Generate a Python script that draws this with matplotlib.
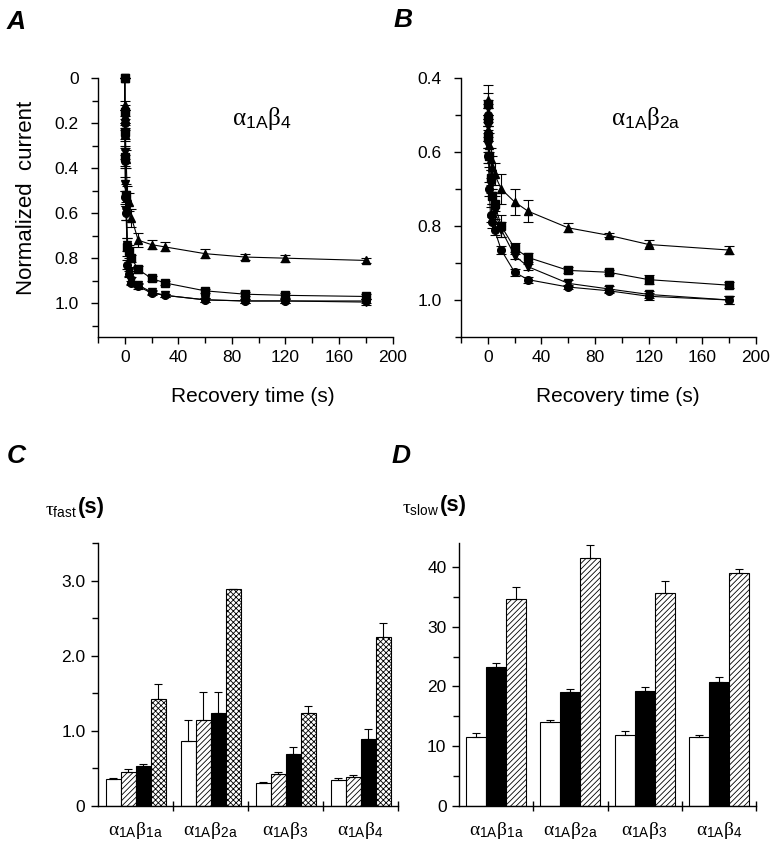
import matplotlib.pyplot as plt
from matplotlib.ticker import MultipleLocator, FixedLocator

plt.rcParams['font.family'] = ['Liberation Sans', 'DejaVu Sans']
plt.rcParams['mathtext.fontset'] = 'custom'
plt.rcParams['mathtext.rm'] = 'Liberation Serif'
plt.rcParams['mathtext.it'] = 'Liberation Serif:italic'
plt.rcParams['mathtext.bf'] = 'Liberation Serif:bold'
plt.rcParams['mathtext.sf'] = 'Liberation Sans'
plt.rcParams['hatch.linewidth'] = 0.6

# ---- panel A : alpha1A beta4 recovery ----
t_a = [0, 0.1, 0.25, 0.5, 1, 2, 3, 5, 10, 20, 30, 60, 90, 120, 180]
a_up = [0, 0.12, 0.17, 0.25, 0.36, 0.53, 0.55, 0.62, 0.72, 0.74, 0.75, 0.78, 0.795, 0.80, 0.81]
a_up_err = [0, 0.02, 0.03, 0.03, 0.04, 0.05, 0.04, 0.04, 0.03, 0.02, 0.02, 0.02, 0.015, 0.015, 0.012]
a_sq = [0, 0.15, 0.24, 0.35, 0.52, 0.75, 0.77, 0.80, 0.85, 0.89, 0.91, 0.945, 0.96, 0.965, 0.97]
a_sq_err = [0, 0.03, 0.03, 0.04, 0.05, 0.04, 0.03, 0.015, 0.015, 0.01, 0.01, 0.01, 0.01, 0.012, 0.012]
a_dn = [0, 0.17, 0.33, 0.47, 0.59, 0.74, 0.86, 0.90, 0.92, 0.95, 0.965, 0.985, 0.99, 0.99, 0.995]
a_dn_err = [0, 0.03, 0.03, 0.03, 0.04, 0.03, 0.02, 0.015, 0.01, 0.008, 0.008, 0.008, 0.008, 0.01, 0.012]
a_ci = [0, 0.20, 0.37, 0.53, 0.60, 0.83, 0.87, 0.91, 0.925, 0.955, 0.965, 0.985, 0.99, 0.99, 0.99]
a_ci_err = [0, 0.03, 0.03, 0.03, 0.03, 0.02, 0.015, 0.01, 0.01, 0.008, 0.008, 0.008, 0.008, 0.008, 0.008]

# ---- panel B : alpha1A beta2a recovery ----
t_b = [0.1, 0.25, 0.5, 1, 2, 3, 5, 10, 20, 30, 60, 90, 120, 180]
b_up = [0.46, 0.50, 0.54, 0.58, 0.62, 0.64, 0.66, 0.70, 0.735, 0.76, 0.805, 0.825, 0.85, 0.865]
b_up_err = [0.04, 0.03, 0.03, 0.03, 0.03, 0.03, 0.03, 0.04, 0.035, 0.03, 0.012, 0.006, 0.012, 0.01]
b_sq = [0.47, 0.51, 0.56, 0.61, 0.67, 0.72, 0.74, 0.80, 0.86, 0.885, 0.92, 0.925, 0.945, 0.96]
b_sq_err = [0.03, 0.03, 0.03, 0.02, 0.02, 0.02, 0.02, 0.03, 0.015, 0.012, 0.008, 0.006, 0.012, 0.008]
b_dn = [0.48, 0.53, 0.58, 0.62, 0.69, 0.72, 0.76, 0.81, 0.88, 0.91, 0.955, 0.97, 0.985, 1.0]
b_dn_err = [0.02, 0.02, 0.02, 0.02, 0.02, 0.02, 0.02, 0.02, 0.01, 0.008, 0.008, 0.008, 0.01, 0.01]
b_ci = [0.50, 0.55, 0.61, 0.70, 0.77, 0.79, 0.81, 0.865, 0.925, 0.945, 0.965, 0.975, 0.99, 1.0]
b_ci_err = [0.02, 0.02, 0.02, 0.02, 0.02, 0.015, 0.015, 0.01, 0.01, 0.008, 0.006, 0.006, 0.01, 0.01]

# ---- panels C, D : time constants ----
groups = [r'$\mathrm{\alpha}_{\mathsf{1A}}\mathrm{\beta}_{\mathsf{1a}}$',
          r'$\mathrm{\alpha}_{\mathsf{1A}}\mathrm{\beta}_{\mathsf{2a}}$',
          r'$\mathrm{\alpha}_{\mathsf{1A}}\mathrm{\beta}_{\mathsf{3}}$',
          r'$\mathrm{\alpha}_{\mathsf{1A}}\mathrm{\beta}_{\mathsf{4}}$']
c_white = [0.36, 0.87, 0.31, 0.34]
c_white_err = [0.01, 0.28, 0.01, 0.03]
c_hatch = [0.45, 1.15, 0.42, 0.39]
c_hatch_err = [0.04, 0.37, 0.03, 0.02]
c_black = [0.53, 1.24, 0.69, 0.89]
c_black_err = [0.03, 0.28, 0.10, 0.13]
c_cross = [1.43, 2.89, 1.24, 2.25]
c_cross_err = [0.19, 0.0, 0.09, 0.18]

d_white = [11.6, 14.0, 11.9, 11.5]
d_white_err = [0.6, 0.4, 0.6, 0.4]
d_black = [23.2, 19.1, 19.3, 20.8]
d_black_err = [0.8, 0.5, 0.6, 0.8]
d_hatch = [34.6, 41.5, 35.7, 39.0]
d_hatch_err = [2.1, 2.1, 2.0, 0.7]

W, H = 779, 848
fig = plt.figure(figsize=(W / 100, H / 100), dpi=100)


def box(x0, y0, x1, y1):
    # pixel box (top-left origin) -> figure fraction
    return [x0 / W, 1 - y1 / H, (x1 - x0) / W, (y1 - y0) / H]


def ftext(x, y, s, **kw):
    fig.text(x / W, 1 - y / H, s, **kw)


def style(ax):
    for side in ['top', 'right']:
        ax.spines[side].set_visible(False)
    for side in ['left', 'bottom']:
        ax.spines[side].set_linewidth(1.0)
    ax.tick_params(which='both', direction='out', width=1.0, labelsize=12.5)
    ax.tick_params(which='major', length=5)
    ax.tick_params(which='minor', length=4)


def curves(ax, t, series, ylim, yticks, ylabels):
    for y, e, m in series:
        ax.plot(t, y, '-', color='black', lw=0.8, clip_on=False)
        ax.errorbar(t, y, yerr=e, fmt=m, color='black', ms=5.5, capsize=3.5,
                    elinewidth=0.8, capthick=0.8, clip_on=False)
    style(ax)
    ax.set_xlim(-20, 200)
    ax.set_ylim(*ylim)
    ax.xaxis.set_major_locator(FixedLocator([0, 40, 80, 120, 160, 200]))
    ax.xaxis.set_minor_locator(MultipleLocator(20))
    ax.set_yticks(yticks)
    ax.set_yticklabels(ylabels)
    ax.yaxis.set_minor_locator(MultipleLocator(0.1))
    ax.tick_params(axis='y', pad=9)
    ax.tick_params(axis='x', pad=4)


axA = fig.add_axes(box(98, 78, 392.5, 337))
curves(axA, t_a, [(a_up, a_up_err, '^'), (a_sq, a_sq_err, 's'),
                  (a_dn, a_dn_err, 'v'), (a_ci, a_ci_err, 'o')],
       (1.15, 0), [0, 0.2, 0.4, 0.6, 0.8, 1.0], ['0', '0.2', '0.4', '0.6', '0.8', '1.0'])

axB = fig.add_axes(box(461, 78, 756, 337))
curves(axB, t_b, [(b_up, b_up_err, '^'), (b_sq, b_sq_err, 's'),
                  (b_dn, b_dn_err, 'v'), (b_ci, b_ci_err, 'o')],
       (1.1, 0.4), [0.4, 0.6, 0.8, 1.0], ['0.4', '0.6', '0.8', '1.0'])


def bars(ax, sets, width, ylim, yticks, ylabels, minor):
    n = len(sets)
    x = list(range(len(groups)))
    for i, (vals, errs, fc, hatch) in enumerate(sets):
        off = (i - (n - 1) / 2) * width
        pos = [xi + off for xi in x]
        ax.bar(pos, vals, width, color=fc, edgecolor='black', hatch=hatch, lw=0.8)
        ax.errorbar(pos, vals, yerr=[[0] * len(errs), errs], fmt='none',
                    ecolor='black', elinewidth=0.8, capsize=3, capthick=0.8)
    style(ax)
    ax.set_xlim(-0.5, 3.5)
    ax.set_ylim(*ylim)
    ax.set_xticks(x)
    ax.set_xticklabels(groups, fontsize=14)
    ax.xaxis.set_minor_locator(FixedLocator([0.5, 1.5, 2.5, 3.5]))
    ax.tick_params(axis='x', which='major', length=0, pad=10)
    ax.tick_params(axis='x', which='minor', direction='inout', length=7)
    ax.set_yticks(yticks)
    ax.set_yticklabels(ylabels)
    ax.yaxis.set_minor_locator(MultipleLocator(minor))
    ax.tick_params(axis='y', pad=4)


axC = fig.add_axes(box(98, 543, 398, 806))
bars(axC, [(c_white, c_white_err, 'white', None),
           (c_hatch, c_hatch_err, 'white', '//////'),
           (c_black, c_black_err, 'black', None),
           (c_cross, c_cross_err, 'white', 'xxxxxx')],
     0.2, (0, 3.5), [0, 1, 2, 3], ['0', '1.0', '2.0', '3.0'], 0.5)

axD = fig.add_axes(box(459, 543, 756, 806))
bars(axD, [(d_white, d_white_err, 'white', None),
           (d_black, d_black_err, 'black', None),
           (d_hatch, d_hatch_err, 'white', '//////')],
     0.27, (0, 44), [0, 10, 20, 30, 40], ['0', '10', '20', '30', '40'], 5)

# ---- texts ----
for x, y, s in [(7, 10, 'A'), (394, 8, 'B'), (7, 444, 'C'), (392, 444, 'D')]:
    ftext(x, y, s, fontsize=19, fontweight='bold', fontstyle='italic', va='top', ha='left')

ftext(253, 397, 'Recovery time (s)', fontsize=15, ha='center', va='center')
ftext(618, 397, 'Recovery time (s)', fontsize=15, ha='center', va='center')
ftext(27, 198, 'Normalized  current', fontsize=16, rotation=90, ha='center', va='center')

ftext(262, 118, r'$\mathrm{\alpha}_{\mathsf{1A}}\mathrm{\beta}_{\mathsf{4}}$', fontsize=18,
      ha='center', va='center')
ftext(646, 118, r'$\mathrm{\alpha}_{\mathsf{1A}}\mathrm{\beta}_{\mathsf{2a}}$', fontsize=18,
      ha='center', va='center')

ftext(77, 512, r'$\mathrm{\tau}_{\mathsf{fast}}$', fontsize=14, ha='right', va='center')
ftext(78, 508, '(s)', fontsize=16, fontweight='bold', ha='left', va='center')
ftext(439, 510, r'$\mathrm{\tau}_{\mathsf{slow}}$', fontsize=14, ha='right', va='center')
ftext(440, 506, '(s)', fontsize=16, fontweight='bold', ha='left', va='center')

fig.savefig('out.png', dpi=100)
